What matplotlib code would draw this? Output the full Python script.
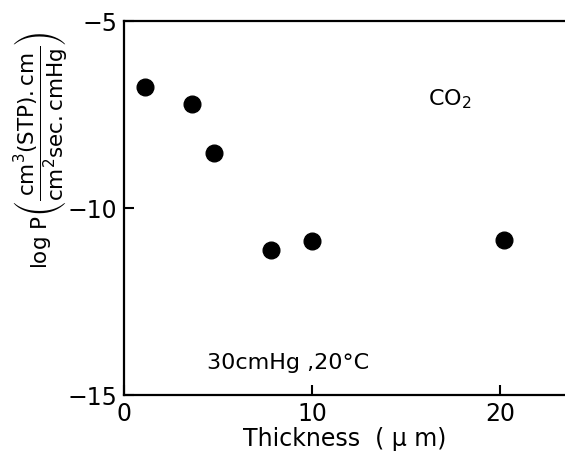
import matplotlib
matplotlib.use("Agg")
import matplotlib.pyplot as plt

plt.rcParams['font.family'] = ['DejaVu Sans']
plt.rcParams['mathtext.fontset'] = 'dejavusans'

# film thickness (um) and log permeability of CO2
thickness = [1.1, 3.6, 4.8, 7.8, 10.0, 20.2]
log_p = [-6.77, -7.21, -8.52, -11.12, -10.89, -10.86]

xticks = [0, 10, 20]
yticks = [-15, -10, -5]

fig = plt.figure(figsize=(5.65, 4.62), dpi=100)
ax = fig.add_axes([0.2195, 0.145, 0.7805, 0.8095])

ax.plot(thickness, log_p, 'o', color='black', markersize=12)

ax.set_xlim(0, 23.45)
ax.set_ylim(-15, -5)
ax.set_xticks(xticks)
ax.set_yticks(yticks)
ax.set_yticklabels(['\u221215', '\u221210', '\u22125'])
ax.tick_params(direction='in', length=7, width=1.5, labelsize=17, pad=5)

for side in ['left', 'bottom', 'top']:
    ax.spines[side].set_linewidth(1.6)
ax.spines['right'].set_visible(False)

ax.set_xlabel('Thickness  ( \u00b5 m)', fontsize=17, labelpad=1)
ax.set_ylabel(r'log P$\left(\dfrac{\mathrm{cm^3(STP).cm}}{\mathrm{cm^2sec.cmHg}}\right)$',
              fontsize=15.5)
ax.yaxis.set_label_coords(-0.12, 0.655)

ax.text(17.3, -7.1, r'CO$_2$', fontsize=16, ha='center', va='center')
ax.text(8.7, -14.14, '30cmHg ,20\u00b0C', fontsize=16, ha='center', va='center')

fig.savefig('out.png', dpi=100)
